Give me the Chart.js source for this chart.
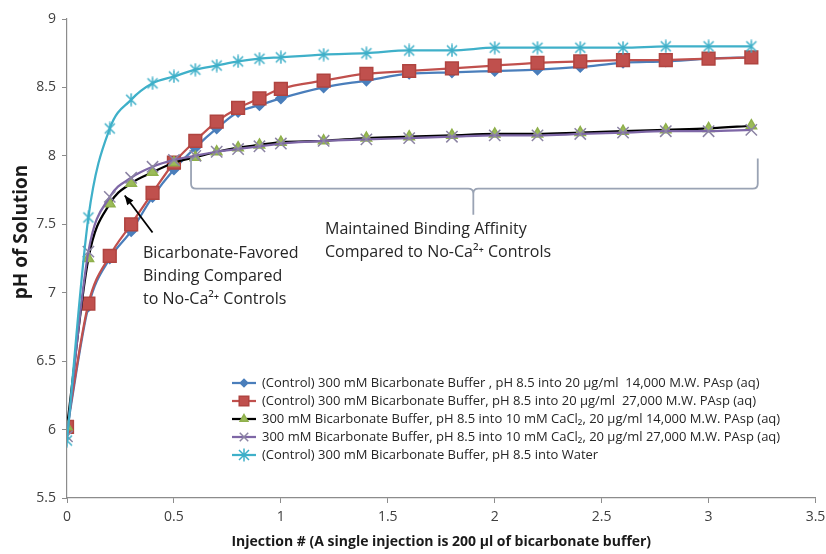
<!DOCTYPE html>
<html>
<head>
<meta charset="utf-8">
<script src="https://cdn.jsdelivr.net/npm/chart.js@4.4.1/dist/chart.umd.min.js"></script>
<style>
  html, body { margin: 0; padding: 0; background: #fff; }
</style>
</head>
<body>
<canvas id="grafico" width="826" height="554"></canvas>
<script>
// Número de inyección (eje x)
const inyecciones = [0, 0.1, 0.2, 0.3, 0.4, 0.5, 0.6, 0.7, 0.8, 0.9, 1.0, 1.2, 1.4, 1.6, 1.8, 2.0, 2.2, 2.4, 2.6, 2.8, 3.0, 3.2];

// pH de cada serie
const phControl14k = [6.0, 6.9, 7.25, 7.45, 7.7, 7.9, 8.06, 8.2, 8.32, 8.37, 8.42, 8.5, 8.55, 8.6, 8.61, 8.62, 8.63, 8.65, 8.68, 8.69, 8.71, 8.72];
const phControl27k = [6.02, 6.92, 7.27, 7.5, 7.73, 7.95, 8.11, 8.25, 8.35, 8.42, 8.49, 8.55, 8.6, 8.62, 8.64, 8.66, 8.68, 8.69, 8.7, 8.7, 8.71, 8.72];
const phCalcio14k = [6.02, 7.25, 7.65, 7.8, 7.88, 7.95, 7.99, 8.03, 8.06, 8.08, 8.1, 8.11, 8.13, 8.14, 8.15, 8.16, 8.16, 8.17, 8.18, 8.19, 8.2, 8.22];
const phCalcio27k = [5.95, 7.3, 7.7, 7.84, 7.92, 7.97, 8.0, 8.03, 8.05, 8.07, 8.09, 8.11, 8.12, 8.13, 8.14, 8.15, 8.15, 8.16, 8.17, 8.18, 8.18, 8.19];
const phAgua = [5.92, 7.55, 8.2, 8.41, 8.53, 8.58, 8.63, 8.66, 8.69, 8.71, 8.72, 8.74, 8.75, 8.77, 8.77, 8.79, 8.79, 8.79, 8.79, 8.8, 8.8, 8.8];

// Etiquetas de la leyenda
const etiquetas = [
    '(Control) 300 mM Bicarbonate Buffer , pH 8.5 into 20 µg/ml  14,000 M.W. PAsp (aq)',
    '(Control) 300 mM Bicarbonate Buffer, pH 8.5 into 20 µg/ml  27,000 M.W. PAsp (aq)',
    '300 mM Bicarbonate Buffer, pH 8.5 into 10 mM CaCl₂, 20 µg/ml 14,000 M.W. PAsp (aq)',
    '300 mM Bicarbonate Buffer, pH 8.5 into 10 mM CaCl₂, 20 µg/ml 27,000 M.W. PAsp (aq)',
    '(Control) 300 mM Bicarbonate Buffer, pH 8.5 into Water'
];

// Marcador tipo asterisco (X con línea vertical) como en Excel
function crearAsterisco(color) {
    const c = document.createElement('canvas');
    c.width = 14; c.height = 14;
    const g = c.getContext('2d');
    g.strokeStyle = color;
    g.lineWidth = 1.5;
    g.beginPath();
    g.moveTo(2, 2); g.lineTo(12, 12);
    g.moveTo(12, 2); g.lineTo(2, 12);
    g.moveTo(7, 0.5); g.lineTo(7, 13.5);
    g.stroke();
    return c;
}

// Une x con y para cada serie
const puntos = (valores) => valores.map((v, i) => ({ x: inyecciones[i], y: v }));

const series = [
    { label: etiquetas[0], data: puntos(phControl14k), borderColor: '#4a7ebb', pointBackgroundColor: '#4a7ebb', pointBorderColor: '#4a7ebb', pointStyle: 'rectRot', pointRadius: 5, order: 5 },
    { label: etiquetas[1], data: puntos(phControl27k), borderColor: '#c0504d', pointBackgroundColor: '#c0504d', pointBorderColor: '#b04440', pointStyle: 'rect', pointRadius: 9, order: 4 },
    { label: etiquetas[2], data: puntos(phCalcio14k), borderColor: '#000000', pointBackgroundColor: '#9bbb59', pointBorderColor: '#8fb04c', pointStyle: 'triangle', pointRadius: 6, order: 3 },
    { label: etiquetas[3], data: puntos(phCalcio27k), borderColor: '#7e67a6', pointBackgroundColor: '#8c84a4', pointBorderColor: '#8c84a4', pointStyle: 'crossRot', pointRadius: 8, order: 2 },
    { label: etiquetas[4], data: puntos(phAgua), borderColor: '#3fb0c9', pointBackgroundColor: '#3fb0c9', pointBorderColor: '#3fb0c9', pointStyle: crearAsterisco('#3fb0c9'), pointRadius: 7, order: 1 }
];

series.forEach(s => {
    s.borderWidth = 2.25;
    s.pointBorderWidth = 1.5;
    s.fill = false;
    s.cubicInterpolationMode = 'monotone';
});

// Formato de ticks sin ceros de sobra (9 en vez de 9.0)
const formatoTick = v => String(Number(v.toFixed(2)));

// Leyenda dentro del área del gráfico
const leyenda = {
    id: 'leyenda',
    afterDraw(chart) {
        const ctx = chart.ctx;
        ctx.save();
        ctx.font = '13px "Open Sans"';
        ctx.textBaseline = 'middle';
        chart.data.datasets.forEach((ds, i) => {
            const y = 383 + i * 18;
            ctx.strokeStyle = ds.borderColor;
            ctx.lineWidth = 2.25;
            ctx.beginPath();
            ctx.moveTo(232, y);
            ctx.lineTo(256, y);
            ctx.stroke();
            ctx.fillStyle = ds.pointBackgroundColor;
            ctx.strokeStyle = ds.pointBorderColor;
            ctx.lineWidth = 1.5;
            Chart.helpers.drawPoint(ctx, { pointStyle: ds.pointStyle, radius: ds.pointRadius * 0.75, rotation: 0, borderWidth: 1.5 }, 244, y);
            ctx.fillStyle = '#262626';
            ctx.fillText(ds.label, 262, y);
        });
        ctx.restore();
    }
};

// Título del eje y (algo más arriba del centro, como en el original)
const tituloY = {
    id: 'tituloY',
    afterDraw(chart) {
        const ctx = chart.ctx;
        ctx.save();
        ctx.translate(22, 232);
        ctx.rotate(-Math.PI / 2);
        ctx.font = 'bold 19px "Open Sans"';
        ctx.fillStyle = '#1a1a1a';
        ctx.textAlign = 'center';
        ctx.textBaseline = 'middle';
        ctx.fillText('pH of Solution', 0, 0);
        ctx.restore();
    }
};

// Anotaciones: flecha, llave y textos
const anotaciones = {
    id: 'anotaciones',
    afterDatasetsDraw(chart) {
        const ctx = chart.ctx;
        const px = v => chart.scales.x.getPixelForValue(v);
        const py = v => chart.scales.y.getPixelForValue(v);
        ctx.save();

        // Flecha
        const x0 = px(0.40), y0 = py(7.44), x1 = px(0.27), y1 = py(7.71);
        ctx.strokeStyle = '#000';
        ctx.fillStyle = '#000';
        ctx.lineWidth = 1.8;
        ctx.beginPath();
        ctx.moveTo(x0, y0);
        ctx.lineTo(x1, y1);
        ctx.stroke();
        const ang = Math.atan2(y1 - y0, x1 - x0);
        ctx.beginPath();
        ctx.moveTo(x1, y1);
        ctx.lineTo(x1 - 10 * Math.cos(ang - 0.4), y1 - 10 * Math.sin(ang - 0.4));
        ctx.lineTo(x1 - 10 * Math.cos(ang + 0.4), y1 - 10 * Math.sin(ang + 0.4));
        ctx.closePath();
        ctx.fill();

        // Llave horizontal
        const izq = px(0.58), der = px(3.23), centro = px(1.9);
        const arriba = py(7.98), medio = py(7.76), punta = py(7.57);
        const r = 5;
        ctx.strokeStyle = '#9aa3b4';
        ctx.lineWidth = 1.8;
        ctx.beginPath();
        ctx.moveTo(izq, arriba);
        ctx.lineTo(izq, medio - r);
        ctx.quadraticCurveTo(izq, medio, izq + r, medio);
        ctx.lineTo(centro - r, medio);
        ctx.quadraticCurveTo(centro, medio, centro, medio + r);
        ctx.lineTo(centro, punta);
        ctx.moveTo(centro, medio + r);
        ctx.quadraticCurveTo(centro, medio, centro + r, medio);
        ctx.lineTo(der - r, medio);
        ctx.quadraticCurveTo(der, medio, der, medio - r);
        ctx.lineTo(der, arriba);
        ctx.stroke();

        // Textos
        ctx.fillStyle = '#262626';
        ctx.font = '16px "Open Sans"';
        ctx.textBaseline = 'middle';
        ctx.fillText('Bicarbonate-Favored', 143, 253);
        ctx.fillText('Binding Compared', 143, 276);
        ctx.fillText('to No-Ca²⁺ Controls', 143, 299);
        ctx.fillText('Maintained Binding Affinity', 325, 229);
        ctx.fillText('Compared to No-Ca²⁺ Controls', 325, 252);
        ctx.restore();
    }
};

Chart.defaults.font.family = '"Open Sans", sans-serif';
Chart.defaults.color = '#404040';

new Chart(document.getElementById('grafico'), {
    type: 'line',
    data: { datasets: series },
    options: {
        responsive: false,
        animation: false,
        devicePixelRatio: 1,
        layout: { padding: { top: 19, right: 0, left: 0, bottom: 0 } },
        plugins: {
            legend: { display: false },
            tooltip: { enabled: false }
        },
        scales: {
            x: {
                type: 'linear',
                min: 0,
                max: 3.5,
                ticks: { stepSize: 0.5, font: { size: 14 }, padding: 6, maxRotation: 0, callback: formatoTick },
                grid: { drawOnChartArea: false, drawTicks: true, tickLength: 5, color: '#8c8c8c' },
                border: { color: '#8c8c8c', width: 1.2 },
                title: { display: true, text: 'Injection # (A single injection is 200 µl of bicarbonate buffer)', font: { size: 14, weight: 'bold' }, color: '#1a1a1a', padding: { top: 2, bottom: 4 } },
                afterFit: s => { s.height = 56; s.paddingRight = 8; s.paddingLeft = 0; }
            },
            y: {
                min: 5.5,
                max: 9,
                ticks: { stepSize: 0.5, font: { size: 14 }, padding: 6, callback: formatoTick },
                grid: { drawOnChartArea: false, drawTicks: true, tickLength: 5, color: '#8c8c8c' },
                border: { color: '#8c8c8c', width: 1.2 },
                title: { display: false },
                afterFit: s => { s.width = 67; }
            }
        }
    },
    plugins: [anotaciones, leyenda, tituloY]
});
</script>
</body>
</html>
